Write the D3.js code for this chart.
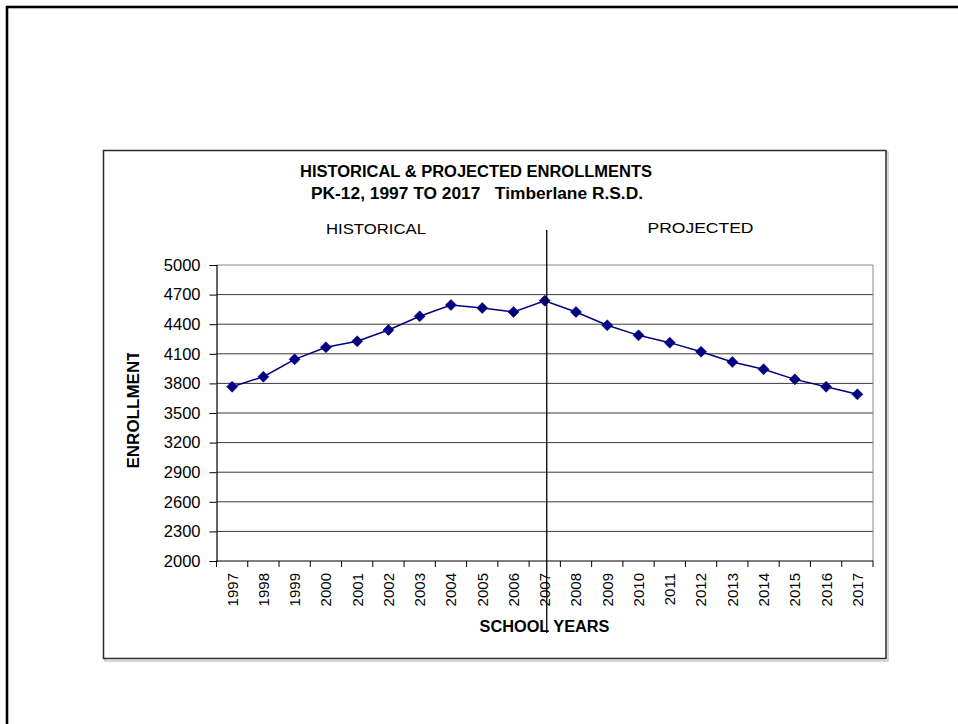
<!DOCTYPE html>
<html>
<head>
<meta charset="utf-8">
<script src="https://cdn.jsdelivr.net/npm/d3@7"></script>
<style>
  html, body { margin: 0; padding: 0; background: #fff; }
  svg { display: block; }
  text { font-family: Arial, "Liberation Sans", sans-serif; }
</style>
</head>
<body>
<svg id="chart" width="958" height="724"></svg>
<script>
// Enrollment by school year, PK-12 (1997-2007 actual, 2008-2017 projected)
const years = ["1997","1998","1999","2000","2001","2002","2003","2004","2005","2006","2007",
               "2008","2009","2010","2011","2012","2013","2014","2015","2016","2017"];
const enrollment = [3766, 3868, 4044, 4166, 4227, 4341, 4480, 4595, 4564, 4524, 4638,
                    4524, 4389, 4287, 4213, 4121, 4017, 3943, 3841, 3766, 3689];
const yTicks = [2000, 2300, 2600, 2900, 3200, 3500, 3800, 4100, 4400, 4700, 5000];
const splitYear = "2007";
const titleLines = ["HISTORICAL & PROJECTED ENROLLMENTS", "PK-12, 1997 TO 2017   Timberlane R.S.D."];

const svg = d3.select("#chart");

// page frame
svg.append("rect")
  .attr("x", 7).attr("y", 7).attr("width", 1000).attr("height", 800)
  .attr("fill", "none").attr("stroke", "#000").attr("stroke-width", 2.6);

// chart frame with soft shadow
svg.append("rect")
  .attr("x", 105).attr("y", 152).attr("width", 783).attr("height", 509)
  .attr("fill", "none").attr("stroke", "#bbb").attr("stroke-width", 1.2);
svg.append("rect")
  .attr("x", 103.5).attr("y", 150.5).attr("width", 782.5).attr("height", 508)
  .attr("fill", "#fff").attr("stroke", "#2a2a2a").attr("stroke-width", 1.5);

const L = 216.5, R = 873, T = 265, B = 561;
const x = d3.scaleBand().domain(years).range([L, R]).padding(0);
const y = d3.scaleLinear().domain([2000, 5000]).range([B, T]);
const cx = d => x(d) + x.bandwidth() / 2;

// horizontal gridlines
svg.append("g")
  .selectAll("line")
  .data(yTicks.filter(v => v > 2000))
  .join("line")
  .attr("x1", L).attr("x2", R)
  .attr("y1", d => y(d)).attr("y2", d => y(d))
  .attr("stroke", d => d === 5000 ? "#8a8a8a" : "#3a3a3a")
  .attr("stroke-width", 1);

// right edge of plot area
svg.append("line")
  .attr("x1", R).attr("x2", R).attr("y1", T).attr("y2", B)
  .attr("stroke", "#8a8a8a").attr("stroke-width", 1);

// y axis
const yAxis = svg.append("g")
  .attr("transform", `translate(${L},0)`)
  .call(d3.axisLeft(y).tickValues(yTicks).tickSize(7).tickPadding(9).tickFormat(d3.format("d")));
yAxis.select(".domain").attr("stroke", "#000").attr("stroke-width", 1.2);
yAxis.selectAll(".tick line").attr("stroke", "#000");
yAxis.selectAll(".tick text")
  .attr("font-size", 16.5).attr("fill", "#000")
  .style("font-family", "Arial, 'Liberation Sans', sans-serif");

// x axis: labels at category centres, ticks on category boundaries
const xAxis = svg.append("g")
  .attr("transform", `translate(0,${B})`)
  .call(d3.axisBottom(x).tickSize(0).tickPadding(0));
xAxis.select(".domain").remove();
xAxis.selectAll(".tick text")
  .attr("font-size", 15).attr("fill", "#000")
  .style("font-family", "Arial, 'Liberation Sans', sans-serif")
  .attr("transform", "rotate(-90)")
  .attr("text-anchor", "end")
  .attr("x", -12).attr("y", 0).attr("dy", "0.36em");

svg.append("line")
  .attr("x1", L).attr("x2", R).attr("y1", B).attr("y2", B)
  .attr("stroke", "#000").attr("stroke-width", 1.2);
svg.append("g")
  .selectAll("line")
  .data(years.map(d => x(d)).concat([R]))
  .join("line")
  .attr("x1", d => d).attr("x2", d => d)
  .attr("y1", B).attr("y2", B + 6)
  .attr("stroke", "#000");

// series line and diamond markers
const line = d3.line().x((d, i) => cx(years[i])).y(d => y(d));
svg.append("path")
  .datum(enrollment)
  .attr("d", line)
  .attr("fill", "none")
  .attr("stroke", "#000080")
  .attr("stroke-width", 1.5);

svg.append("g")
  .selectAll("path")
  .data(enrollment)
  .join("path")
  .attr("transform", (d, i) => `translate(${cx(years[i])},${y(d)})`)
  .attr("d", "M0,-5.5L5.5,0L0,5.5L-5.5,0Z")
  .attr("fill", "#000080")
  .attr("stroke", "#000080")
  .attr("stroke-width", 0.6);

// historical / projected divider
const divX = cx(splitYear) + 2;
svg.append("line")
  .attr("x1", divX).attr("x2", divX).attr("y1", 230).attr("y2", 633)
  .attr("stroke", "#000").attr("stroke-width", 1.3);

// titles
function fitText(sel, len) {
  sel.attr("textLength", len).attr("lengthAdjust", "spacingAndGlyphs");
}
svg.append("text")
  .attr("x", 300).attr("y", 176.5)
  .attr("font-size", 15.8).attr("font-weight", "bold")
  .text(titleLines[0]).call(fitText, 352);
svg.append("text")
  .attr("x", 311).attr("y", 199)
  .attr("font-size", 15.8).attr("font-weight", "bold")
  .attr("xml:space", "preserve").style("white-space", "pre")
  .text(titleLines[1]).call(fitText, 332);

svg.append("text")
  .attr("x", 326).attr("y", 234)
  .attr("font-size", 15.5)
  .text("HISTORICAL").call(fitText, 100);
svg.append("text")
  .attr("x", 647.5).attr("y", 233)
  .attr("font-size", 15.5)
  .text("PROJECTED").call(fitText, 106);

// axis titles (y title is clipped at the top of its box)
svg.append("defs").append("clipPath").attr("id", "ylabClip")
  .append("rect").attr("x", 100).attr("y", 353).attr("width", 60).attr("height", 200);
svg.append("g")
  .attr("clip-path", "url(#ylabClip)")
  .append("text")
  .attr("transform", "translate(139,468.5) rotate(-90)")
  .attr("font-size", 17).attr("font-weight", "bold")
  .text("ENROLLMENT");

svg.append("text")
  .attr("x", 479.5).attr("y", 632)
  .attr("font-size", 16).attr("font-weight", "bold")
  .text("SCHOOL YEARS").call(fitText, 130);
</script>
</body>
</html>
